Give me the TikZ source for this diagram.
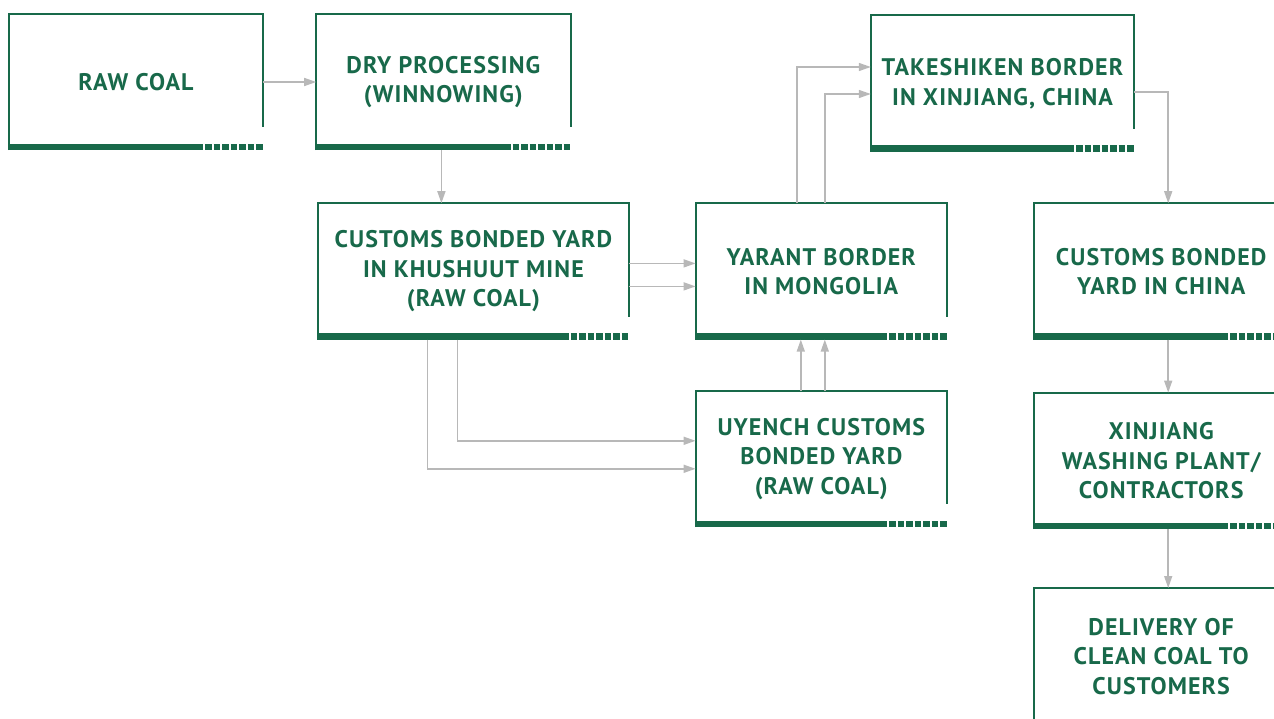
\documentclass[tikz,border=0pt]{standalone}
\usepackage{fontspec}
\setmainfont{PT Sans}[LetterSpace=4.5]
\usepackage{tikz}
\usetikzlibrary{arrows.meta, positioning}
\definecolor{verdeMina}{HTML}{18694A}
\definecolor{grisFlecha}{HTML}{B8B8B8}

\begin{document}
\begin{tikzpicture}[
        x=1pt, y=1pt,
        caja/.style={minimum width=254pt, minimum height=136pt, inner sep=0pt, align=center,
            text=verdeMina, font=\fontsize{24}{29.5}\selectfont\bfseries},
        marco/.style={draw=verdeMina, line width=2pt},
        rel/.style={-{Triangle[length=12pt, width=8pt]}, grisFlecha, line width=1.5pt}
    ]
        \clip (0,0) rectangle (1274,-719);

        \node[caja] (raw) at (136,-82) {RAW COAL};
        \node[caja, right=53pt of raw] (dry) {DRY PROCESSING\\(WINNOWING)};
        \node[caja, minimum width=310pt, below=53pt of dry, xshift=30pt] (khushuut)
            {CUSTOMS BONDED YARD\\IN KHUSHUUT MINE\\(RAW COAL)};
        \node[caja, minimum width=251pt, right=67pt of khushuut] (yarant) {YARANT BORDER\\IN MONGOLIA};
        \node[caja, minimum width=251pt, below=51pt of yarant] (uyench)
            {UYENCH CUSTOMS\\BONDED YARD\\(RAW COAL)};
        \node[caja, minimum width=263pt] (takeshiken) at (1002.5,-83.5)
            {TAKESHIKEN BORDER\\IN XINJIANG, CHINA};
        \node[caja, right=87pt of yarant] (china) {CUSTOMS BONDED\\YARD IN CHINA};
        \node[caja, below=53pt of china] (xinjiang) {XINJIANG\\WASHING PLANT/\\CONTRACTORS};
        \node[caja, below=59pt of xinjiang] (delivery) {DELIVERY OF\\CLEAN COAL TO\\CUSTOMERS};

        % marcos con barra inferior
        \foreach \n in {raw, dry, khushuut, yarant, uyench, takeshiken, china, xinjiang} {
            \draw[marco] (\n.south west) -- (\n.north west) -- (\n.north east)
                -- ([yshift=23pt]\n.south east);
            \fill[verdeMina] (\n.south west) rectangle ([xshift=-60pt, yshift=6.5pt]\n.south east);
            \draw[verdeMina, line width=6.5pt, dash pattern=on 6.5pt off 2pt]
                ([xshift=-58pt, yshift=3.25pt]\n.south east) -- ([yshift=3.25pt]\n.south east);
        }
        % la ultima caja queda cortada por abajo
        \draw[marco] (delivery.south west) -- (delivery.north west) -- (delivery.north east);

        \draw[rel] (raw) -- (dry);
        \draw[rel] ([xshift=-2pt]dry.south) -- ([xshift=-2pt]dry.south |- khushuut.north);
        \draw[rel] ([yshift=8pt]khushuut.east) -- ([yshift=8pt]yarant.west);
        \draw[rel] ([yshift=-15pt]khushuut.east) -- ([yshift=-15pt]yarant.west);
        \draw[rel] ([xshift=-16pt]khushuut.south) |- ([yshift=18pt]uyench.west);
        \draw[rel] ([xshift=-46pt]khushuut.south) |- ([yshift=-10pt]uyench.west);
        \draw[rel] ([xshift=-20.5pt]uyench.north) -- ([xshift=-20.5pt]yarant.south);
        \draw[rel] ([xshift=3.5pt]uyench.north) -- ([xshift=3.5pt]yarant.south);
        \draw[rel] ([xshift=-24.5pt]yarant.north) |- ([yshift=16.5pt]takeshiken.west);
        \draw[rel] ([xshift=3.5pt]yarant.north) |- ([yshift=-10.5pt]takeshiken.west);
        \draw[rel] ([yshift=-8.5pt]takeshiken.east) -| ([xshift=7pt]china.north);
        \draw[rel] ([xshift=7pt]china.south) -- ([xshift=7pt]xinjiang.north);
        \draw[rel] ([xshift=7pt]xinjiang.south) -- ([xshift=7pt]delivery.north);
    \end{tikzpicture}
\end{document}
